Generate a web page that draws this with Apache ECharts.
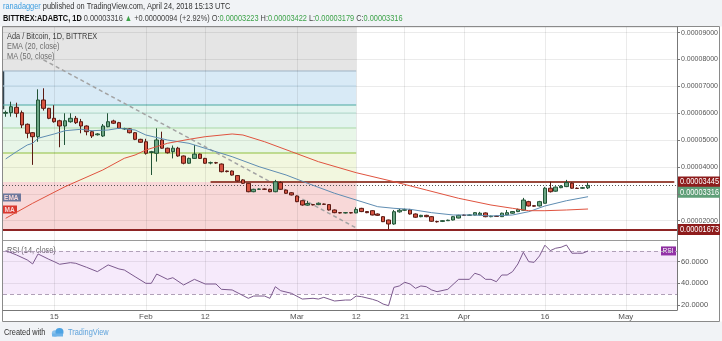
<!DOCTYPE html>
<html><head><meta charset="utf-8">
<script src="https://cdn.jsdelivr.net/npm/echarts@6/dist/echarts.min.js"></script>
<style>html,body{margin:0;padding:0;background:#fff;}#c{width:722px;height:341px;}</style>
</head><body><div id="c"></div>
<script>
// ---- categories (one per day) ----
const firstDay = '2018-01-06';
const lastDay = '2018-05-10';
// ---- tick labels ----
const tickDates = ['2018-01-15','2018-02-01','2018-02-12','2018-03-01','2018-03-12','2018-03-21','2018-04-01','2018-04-16','2018-05-01'];
const tickLabels = ['15','Feb','12','Mar','12','21','Apr','16','May'];
// ---- daily OHLC (units of 1e-8 BTC), 2018-01-06 .. 2018-04-24 ----
const opens = [6000,6022,6223,6022,5590,5277,5128,6494,6185,5813,5720,5526,5686,5813,5686,5526,5315,5200,5154,5500,5713,5650,5420,5420,5277,5030,4940,4540,4510,5005,4700,4570,4700,4410,4140,4320,4480,4320,4150,4160,4110,3850,3850,3680,3520,3393,3080,3170,3180,3170,3080,3420,3140,3040,2920,2745,2580,2600,2600,2620,2600,2400,2300,2290,2300,2290,2460,2340,2373,2250,2150,2027,1878,2330,2390,2400,2250,2150,2200,2150,1970,1975,2000,2027,2100,2210,2200,2210,2220,2290,2150,2170,2150,2220,2280,2340,2390,2710,2560,2550,2650,3210,3100,3230,3270,3400,3210,3210,3223];
const closes = [6030,6245,6000,5564,5254,5128,6494,6185,5813,5686,5526,5720,5813,5650,5526,5315,5154,5230,5526,5686,5630,5440,5430,5277,5030,4920,4510,4570,5005,4700,4530,4700,4410,4140,4320,4480,4320,4140,4160,4150,3825,3830,3700,3480,3393,3080,3170,3180,3170,3080,3450,3170,3020,2960,2710,2585,2640,2590,2650,2610,2400,2300,2290,2300,2290,2420,2340,2300,2213,2200,1964,1878,2336,2390,2410,2250,2130,2200,2150,1980,1960,2000,2020,2150,2200,2200,2215,2300,2280,2150,2170,2160,2280,2300,2340,2420,2770,2550,2540,2710,3210,3080,3250,3290,3420,3210,3200,3230,3316];
const lows = [5870,5873,5850,5450,5070,4080,4940,6100,5780,5650,4735,4820,5650,5600,5254,5180,5080,5170,5120,5480,5600,5420,5380,5250,5000,4900,4460,3702,4200,4680,4500,4320,4380,4100,4120,4300,4300,4120,4100,4120,3800,3800,3680,3460,3370,3060,3060,3150,3150,3060,3060,3150,3000,2940,2690,2560,2560,2570,2580,2590,2380,2280,2270,2270,2270,2280,2320,2280,2200,2180,1950,1673,1850,2300,2360,2230,2110,2130,2130,1960,1930,1950,1990,2010,2090,2180,2180,2200,2200,2130,2130,2140,2140,2200,2260,2320,2380,2530,2520,2530,2640,3050,3080,3210,3250,3190,3180,3190,3179];
const highs = [6100,6431,6394,6100,5620,5300,6893,6930,6200,6300,5760,6000,6000,5900,5790,5550,5350,5260,5600,6000,5760,5680,5460,5440,5300,5050,5050,4600,5440,5315,4720,4800,4750,4430,4350,4820,4500,4340,4200,4190,4130,3870,3870,3700,3550,3400,3190,3200,3200,3190,3520,3470,3160,3060,2940,2760,2740,2620,2680,2640,2620,2420,2320,2320,2310,2500,2480,2360,2390,2270,2170,2040,2400,2440,2450,2440,2270,2220,2220,2170,2000,2020,2040,2170,2220,2230,2240,2320,2330,2310,2190,2190,2300,2400,2360,2450,2850,2740,2580,2740,3260,3450,3280,3320,3520,3430,3240,3260,3422];
// ---- indicator lines: [dayIndex, value] ----
const emaPoints = [[0,4300],[2,4570],[4,4819],[5,4882],[6,5069],[9,5229],[11,5351],[14,5404],[16,5351],[19,5377],[21,5441],[24,5377],[26,5191],[30,5005],[34,4882],[37,4696],[42,4383],[47,4011],[52,3702],[56,3393],[61,3021],[65,2771],[69,2522],[72,2462],[75,2425],[79,2299],[83,2213],[87,2213],[90,2176],[94,2213],[97,2336],[100,2548],[104,2745],[108,2894]];
const maPoints = [[0,2090],[5,2649],[11,3267],[18,3888],[22,4324],[24,4447],[26,4633],[30,4882],[34,5031],[37,5128],[42,5229],[44,5191],[48,4942],[53,4570],[58,4197],[65,3788],[72,3453],[78,3144],[84,2835],[90,2585],[94,2462],[97,2373],[100,2373],[104,2399],[108,2436]];
const rsiPoints = [[0,70.2],[2,66.2],[4,61.6],[5,57.9],[6,67.1],[8,62.2],[9,60],[10,57.6],[12,59.1],[13,58.5],[15,54.8],[17,50.8],[18,53.9],[19,57],[21,53.3],[22,52.3],[24,46.1],[26,40],[27,40],[28,48.6],[30,43.7],[31,45.2],[33,38.5],[35,43.7],[37,39.4],[39,39.4],[40,34.5],[42,33.9],[45,26.2],[46,28.3],[48,28.3],[49,26.2],[50,36.9],[51,33.2],[53,30.8],[55,25.5],[57,26.2],[58,25.5],[59,27.1],[61,23.7],[63,24.6],[64,24.6],[65,28.3],[66,27.7],[68,25.3],[69,23.7],[70,20.9],[71,19.4],[72,36.3],[73,37.6],[74,41],[75,39.4],[76,35.4],[77,37.6],[78,36.9],[79,33.9],[80,32.3],[82,34.5],[84,43.7],[85,43.7],[86,43.7],[87,49.3],[88,47.7],[89,43.7],[90,43.7],[91,41.5],[92,47.7],[93,47.7],[94,50.8],[95,57.9],[96,68.7],[97,60],[98,59.4],[99,65.3],[100,75.2],[101,70.2],[102,72.4],[103,73.3],[104,75.4],[105,67.8],[106,67.8],[107,67.8],[108,69.9]];
// ---- drawings ----
const bandTops =    [9212, 7574, 6308, 5452, 4521, 3445];
const bandBottoms = [7574, 6308, 5452, 4521, 3445, 1673];
const bandEndIdx = 65;
const fibLevels = [7574, 7016, 6308, 6010, 5452, 4521];
const resistance = 3445, support = 1673, lastPrice = 3316;
const resistanceStartIdx = 38;
const trendLine = [[7, 7990], [65, 1730]];
const leftMarker = [7574, 6150];
const priceMin = 1282, priceMax = 9212;
const rsiMin = 15.4, rsiMax = 80;

const FONT = "'Liberation Sans',Arial,sans-serif";
const SX = 0.82;
const bandColors = ['rgba(0,0,0,0.1)','rgba(60,150,210,0.2)','rgba(60,180,150,0.15)','rgba(90,190,90,0.14)','rgba(160,200,30,0.14)','rgba(220,60,60,0.2)'];
const fibColors = ['#9fb4c4','#b9d3e3','#4aa8a0','#b3dccd','#a9d8a6','#8fbf3f'];

const cats = [];
for (let t = Date.parse(firstDay); t <= Date.parse(lastDay); t += 86400000) cats.push(new Date(t).toISOString().slice(0,10));
const candles = opens.map((o,i)=>[o, closes[i], lows[i], highs[i]]);
const tickIdx = tickDates.map(d => cats.indexOf(d));
const fmtP = v => (v/1e8).toFixed(8);

const chart = echarts.init(document.getElementById('c'));
const vgrid = tickIdx.map(i => ({xAxis: i}));
chart.setOption({
  animation: false,
  backgroundColor: '#fff',
  textStyle: {fontFamily: FONT},
  grid: [
    {left: 3, right: 45, top: 27, height: 213, outerBoundsMode: 'none'},
    {left: 3, right: 45, top: 240, height: 70, outerBoundsMode: 'none'}
  ],
  xAxis: [
    {type: 'category', gridIndex: 0, data: cats, boundaryGap: true,
     axisLine: {show: true, lineStyle: {color: '#9a9a9a'}}, axisTick: {show: false}, axisLabel: {show: false}, splitLine: {show: false}},
    {type: 'category', gridIndex: 1, data: cats, boundaryGap: true,
     axisLine: {show: true, lineStyle: {color: '#777'}}, axisTick: {show: false}, splitLine: {show: false},
     axisLabel: {color: '#555', fontSize: 8, fontFamily: FONT, margin: 3,
       interval: (i, v) => tickDates.indexOf(v) >= 0,
       formatter: v => tickLabels[tickDates.indexOf(v)]}}
  ],
  yAxis: [
    {type: 'value', gridIndex: 0, position: 'right', min: priceMin, max: priceMax, minInterval: 1000, maxInterval: 1000,
     axisLine: {show: true, lineStyle: {color: '#777'}}, axisTick: {show: true, length: 3, lineStyle: {color: '#777'}},
     splitLine: {show: true, lineStyle: {color: '#ebebeb'}},
     axisLabel: {color: '#555', fontSize: 7, fontFamily: FONT, margin: 4, showMinLabel: false, showMaxLabel: false,
       formatter: v => (v % 1000 === 0 && v !== 3000) ? fmtP(v) : ''}},
    {type: 'value', gridIndex: 1, position: 'right', min: rsiMin, max: rsiMax, minInterval: 20, maxInterval: 20,
     axisLine: {show: true, lineStyle: {color: '#777'}}, axisTick: {show: true, length: 3, lineStyle: {color: '#777'}},
     splitLine: {show: true, lineStyle: {color: '#ebebeb'}},
     axisLabel: {color: '#555', fontSize: 7.5, fontFamily: FONT, margin: 4, showMinLabel: false, showMaxLabel: false,
       formatter: v => [20,40,60].indexOf(v) >= 0 ? v.toFixed(4) : ''}}
  ],
  series: [
    {type: 'custom', name: 'bands', xAxisIndex: 0, yAxisIndex: 0, z: 1, silent: true,
     data: bandTops.map((t,i) => [bandEndIdx, t, bandBottoms[i]]),
     encode: {x: 0, y: [1,2]},
     renderItem: (params, api) => {
       const cs = params.coordSys;
       const p1 = api.coord([api.value(0), api.value(1)]);
       const p2 = api.coord([api.value(0), api.value(2)]);
       return {type: 'rect', shape: {x: cs.x, y: p1[1], width: p1[0] - cs.x, height: p2[1] - p1[1]}, style: {fill: bandColors[params.dataIndex]}};
     }},
    {type: 'line', name: 'vgrid', xAxisIndex: 0, yAxisIndex: 0, data: [], z: 2, silent: true,
     markLine: {silent: true, symbol: 'none', label: {show: false}, lineStyle: {color: 'rgba(0,0,0,0.08)', width: 1, type: 'solid'}, data: vgrid}},
    {type: 'custom', name: 'fib', xAxisIndex: 0, yAxisIndex: 0, z: 2, silent: true,
     data: fibLevels.map(v => [bandEndIdx, v]),
     encode: {x: 0, y: 1},
     renderItem: (params, api) => {
       const cs = params.coordSys;
       const p = api.coord([api.value(0), api.value(1)]);
       return {type: 'line', shape: {x1: cs.x, y1: p[1], x2: p[0], y2: p[1]}, style: {stroke: fibColors[params.dataIndex], lineWidth: 1}};
     }},
    {type: 'line', name: 'drawings', xAxisIndex: 0, yAxisIndex: 0, data: [], z: 3, silent: true,
     markLine: {silent: true, symbol: 'none', label: {show: false},
       data: [
         [{coord: trendLine[0]}, {coord: trendLine[1], lineStyle: {color: '#a3a3a3', width: 1.5, type: [4,3]}}],
         [{coord: [resistanceStartIdx, resistance]}, {coord: [cats.length - 1, resistance], lineStyle: {color: '#9a4a3e', width: 2, type: 'solid'}}],
         {yAxis: support, lineStyle: {color: '#8e2424', width: 2, type: 'solid'}},
         {yAxis: lastPrice, lineStyle: {color: '#555', width: 1, type: [1,2]}}
       ]}},
    {type: 'candlestick', name: 'ADABTC', xAxisIndex: 0, yAxisIndex: 0, z: 5, barWidth: 4, data: candles,
     itemStyle: {color: '#6ba583', color0: '#d75442', borderColor: '#225437', borderColor0: '#5b1a13', borderWidth: 1}},
    {type: 'line', name: 'EMA (20, close)', xAxisIndex: 0, yAxisIndex: 0, z: 6, data: emaPoints, showSymbol: false, symbol: 'none',
     lineStyle: {color: '#5f8db2', width: 1}},
    {type: 'line', name: 'MA (50, close)', xAxisIndex: 0, yAxisIndex: 0, z: 6, data: maPoints, showSymbol: false, symbol: 'none',
     lineStyle: {color: '#e0533f', width: 1}},
    {type: 'line', name: 'RSI (14, close)', xAxisIndex: 1, yAxisIndex: 1, z: 6, data: rsiPoints, showSymbol: false, symbol: 'none',
     lineStyle: {color: '#7c5a8e', width: 1},
     markArea: {silent: true, itemStyle: {color: 'rgba(180,80,220,0.12)'}, data: [[{yAxis: 30}, {yAxis: 70}]]},
     markLine: {silent: true, symbol: 'none', label: {show: false},
       data: [
         {yAxis: 70, lineStyle: {color: '#b0a0b8', type: [4,3], width: 1}},
         {yAxis: 30, lineStyle: {color: '#b0a0b8', type: [4,3], width: 1}}
       ].concat(tickIdx.map(i => ({xAxis: i, lineStyle: {color: 'rgba(0,0,0,0.08)', width: 1, type: 'solid'}})))}}
  ]
});

const yRes = chart.convertToPixel({yAxisIndex: 0}, resistance);
const yLast = chart.convertToPixel({yAxisIndex: 0}, lastPrice);
const ySup = chart.convertToPixel({yAxisIndex: 0}, support);
const yM1 = chart.convertToPixel({yAxisIndex: 0}, leftMarker[0]);
const yM2 = chart.convertToPixel({yAxisIndex: 0}, leftMarker[1]);
const yRsi = chart.convertToPixel({yAxisIndex: 1}, rsiPoints[rsiPoints.length-1][1]);
const ax = 678;
function txt(x, y, text, font, fill, extra) {
  return Object.assign({type: 'text', x: x, y: y, scaleX: SX, style: {text: text, font: font, fill: fill, verticalAlign: 'middle'}}, extra || {});
}
function tag(y, t, fill) {
  return [
    {type: 'rect', shape: {x: ax, y: y - 5.5, width: 42, height: 11}, style: {fill: fill}},
    txt(ax + 2, y, t, '9px ' + FONT, '#fff')
  ];
}
const head2 = txt(3, 19, '{b|BITTREX:ADABTC, 1D} 0.00003316 {g|▲} +0.00000094 (+2.92%) O:{g|0.00003223} H:{g|0.00003422} L:{g|0.00003179} C:{g|0.00003316}', '9px ' + FONT, '#444');
head2.style.rich = {b: {fill: '#111', font: 'bold 9px ' + FONT}, g: {fill: '#3ea34a', font: '9px ' + FONT}};
const head1 = txt(3, 7, '{a|ranadagger} published on TradingView.com, April 24, 2018 15:13 UTC', '9px ' + FONT, '#333');
head1.style.rich = {a: {fill: '#3b9de0', font: '9px ' + FONT}};
const els = [
  {type: 'rect', shape: {x: 0, y: 0, width: 722, height: 26.5}, style: {fill: '#f1f3f6'}},
  {type: 'rect', shape: {x: 0, y: 321.5, width: 722, height: 20}, style: {fill: '#f1f3f6'}},
  {type: 'rect', shape: {x: 2.5, y: 26.5, width: 717, height: 295}, style: {fill: 'none', stroke: '#8a8a8a', lineWidth: 1}},
  {type: 'line', shape: {x1: 3.5, y1: yM1, x2: 3.5, y2: yM2}, style: {stroke: '#333', lineWidth: 1.5}},
  head1, head2,
  txt(7, 37, 'Ada / Bitcoin, 1D, BITTREX', '9px ' + FONT, '#4a4a4a'),
  txt(7, 47, 'EMA (20, close)', '9px ' + FONT, '#7a7a7a'),
  txt(7, 57, 'MA (50, close)', '9px ' + FONT, '#7a7a7a'),
  {type: 'rect', shape: {x: 3, y: 193.5, width: 18, height: 8}, style: {fill: '#4f86b4'}},
  txt(4, 197.5, 'EMA', 'bold 8px ' + FONT, '#fff'),
  {type: 'rect', shape: {x: 3, y: 205.5, width: 14, height: 8}, style: {fill: '#d9362b'}},
  txt(4.5, 209.5, 'MA', 'bold 8px ' + FONT, '#fff'),
  txt(7, 251, 'RSI (14, close)', '9px ' + FONT, '#666'),
  {type: 'rect', shape: {x: 661, y: yRsi - 4.5, width: 15, height: 9}, style: {fill: '#8e2ea0'}},
  txt(662.5, yRsi, 'RSI', '8px ' + FONT, '#fff'),
  txt(4, 333, 'Created with', '9px ' + FONT, '#333'),
  {type: 'circle', shape: {cx: 55, cy: 333.5, r: 3.2}, style: {fill: '#8cc3ec'}},
  {type: 'circle', shape: {cx: 59.5, cy: 332, r: 4}, style: {fill: '#4da3e3'}},
  {type: 'rect', shape: {x: 52, y: 333.5, width: 11, height: 3}, style: {fill: '#6fb3e8'}},
  txt(68, 333, 'TradingView', '9px ' + FONT, '#5fa3dc')
].concat(tag(yRes, fmtP(resistance), '#8e1c1c'), tag(yLast + 7, fmtP(lastPrice), '#5f9f78'), tag(ySup, fmtP(support), '#8e1c1c'));
chart.setOption({graphic: {elements: els}});
</script>
</body></html>
